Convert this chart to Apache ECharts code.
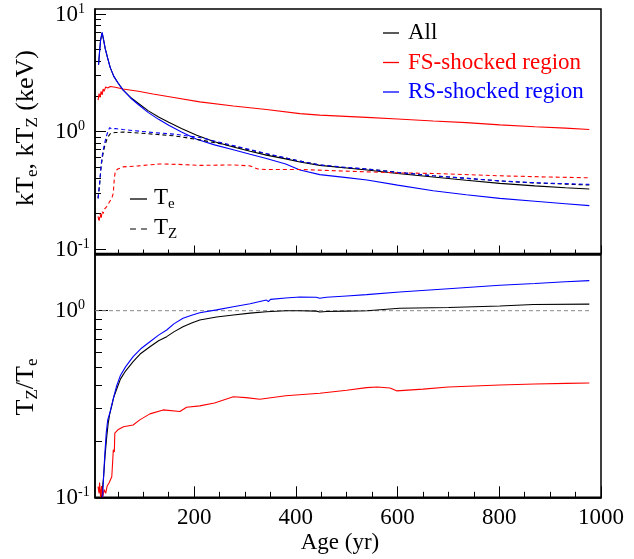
<!DOCTYPE html>
<html>
<head>
<meta charset="utf-8">
<script src="https://cdn.jsdelivr.net/npm/echarts@6/dist/echarts.min.js"></script>
<style>html,body{margin:0;padding:0;background:#fff;}#c{width:634px;height:559px;}</style>
</head>
<body>
<div id="c"></div>
<script>
// ---------- data (age in yr, temperatures in keV, ratios dimensionless) ----------
const allTeAge = [12,14,16,19,22,25,30,35,42,50,60,75,90,110,130,150,175,205,240,277,310,342,380,408,447,500,540,600,670,735,801,870,930,977];
const allTe    = [3.7,4.8,6.0,6.9,6.0,5.1,4.2,3.5,2.95,2.6,2.26,1.95,1.74,1.5,1.33,1.2,1.06,0.93,0.82,0.74,0.68,0.63,0.585,0.55,0.515,0.49,0.47,0.44,0.41,0.385,0.362,0.345,0.332,0.324];
const rsTeAge  = [12,14,16,19,22,25,30,35,42,50,60,75,90,110,130,150,175,205,240,277,310,342,380,408,447,500,540,600,670,735,801,870,930,977];
const rsTe     = [3.7,4.8,6.0,7.0,6.0,5.1,4.2,3.5,2.95,2.6,2.26,1.93,1.7,1.45,1.27,1.13,0.99,0.86,0.77,0.70,0.64,0.59,0.53,0.47,0.43,0.405,0.387,0.35,0.313,0.29,0.27,0.255,0.243,0.234];
const fsTeAge  = [11,13,15,17,19,21,23,26,30,35,45,60,90,119,160,211,277,342,408,447,539,600,670,735,801,870,930,977];
const fsTe     = [1.85,2.1,1.95,2.2,2.05,2.3,2.2,2.4,2.35,2.42,2.38,2.3,2.2,2.09,1.95,1.79,1.65,1.54,1.42,1.38,1.32,1.28,1.23,1.19,1.14,1.1,1.07,1.04];

const allTzAge = [11,14,17,20,24,28,32,36,45,60,80,120,160,211,277,342,408,447,500,540,600,670,735,801,870,930,977];
const allTz    = [0.27,0.35,0.5,0.62,0.75,0.85,0.92,0.97,0.98,0.99,0.98,0.95,0.92,0.85,0.75,0.645,0.56,0.52,0.49,0.48,0.45,0.42,0.4,0.38,0.365,0.357,0.351];
const rsTzAge  = [11,14,17,20,24,28,31,34,38,45,60,80,120,160,211,277,342,408,447,500,540,600,670,735,801,870,930,977];
const rsTz     = [0.27,0.36,0.52,0.66,0.8,0.93,1.02,1.08,1.05,1.06,1.04,1.02,0.98,0.95,0.89,0.76,0.65,0.56,0.52,0.495,0.48,0.45,0.42,0.4,0.38,0.367,0.36,0.355];
const fsTzAge  = [11,13,15,17,19,21,24,28,33,38,41,43,45,50,60,90,133,170,211,277,310,325,342,408,500,600,670,801,900,977];
const fsTz     = [0.19,0.17,0.2,0.18,0.21,0.2,0.22,0.23,0.25,0.27,0.3,0.4,0.46,0.48,0.5,0.51,0.53,0.525,0.515,0.52,0.51,0.48,0.475,0.475,0.46,0.445,0.44,0.42,0.41,0.404];

const allRatioAge = [18,22,25,28,31,34,38,42,47,55,65,80,95,113,130,146,160,178,195,211,244,277,310,342,380,408,440,447,460,500,540,604,700,801,867,977];
const allRatio    = [0.1,0.13,0.17,0.21,0.25,0.28,0.31,0.345,0.376,0.43,0.475,0.533,0.59,0.641,0.69,0.726,0.77,0.821,0.86,0.892,0.925,0.948,0.97,0.988,1.0,1.0,0.995,0.985,0.99,0.995,1.0,1.03,1.04,1.06,1.08,1.085];
const rsRatioAge  = [20,22,24,27,30,34,40,47,55,65,80,95,113,130,146,160,178,195,211,244,277,310,342,346,350,380,408,440,447,460,500,539,604,700,801,870,930,977];
const rsRatio     = [0.1,0.13,0.165,0.22,0.26,0.282,0.33,0.391,0.45,0.5,0.567,0.625,0.682,0.74,0.788,0.85,0.91,0.945,0.976,1.01,1.05,1.09,1.14,1.12,1.15,1.17,1.185,1.18,1.165,1.18,1.2,1.22,1.26,1.31,1.37,1.4,1.43,1.45];
const fsRatioAge  = [11,13,14,16,18,20,23,26,29,33,38,40,41,43,44,50,61,80,93,113,139,172,185,211,240,277,302,329,380,447,500,539,560,585,598,650,700,801,870,932,977];
const fsRatio     = [0.114,0.105,0.12,0.1,0.115,0.1,0.11,0.105,0.115,0.12,0.129,0.16,0.18,0.175,0.221,0.23,0.239,0.244,0.26,0.28,0.294,0.288,0.304,0.309,0.32,0.346,0.342,0.335,0.35,0.361,0.375,0.387,0.39,0.385,0.372,0.38,0.39,0.4,0.405,0.408,0.41];

const unityAge = [5, 977];
const unity    = [1, 1];

// ---------- tick labels / positions ----------
const ageMajor = [200, 400, 600, 800, 1000];
const ageMinor = [50,100,150,250,300,350,450,500,550,650,700,750,850,900,950];
const topDecades = [-1, 0, 1];
const botDecades = [-1, 0];
const mant = [2,3,4,5,6,7,8,9];

// ---------- helpers ----------
const FONT = '"Liberation Serif","Times New Roman",serif';
const lg = v => Math.log10(v);
const pts = (a, v) => a.map((x, i) => [x, lg(v[i])]);
function minorsIn(lo, hi) {
  const out = [];
  for (let e = Math.floor(lo) - 1; e <= Math.ceil(hi); e++) {
    mant.forEach(m => { const l = e + lg(m); if (l > lo && l < hi) out.push(l); });
  }
  return out;
}
const TOP_MIN = -1.038, TOP_MAX = 1.043;
const BOT_MIN = -1.0, BOT_MAX = 0.2985;

const expRich = {
  b: { fontFamily: FONT, fontSize: 23, color: '#000', verticalAlign: 'bottom', lineHeight: 24 },
  s: { fontFamily: FONT, fontSize: 14, color: '#000', verticalAlign: 'top', lineHeight: 14 }
};
const expFmt = v => '{b|10}{s|' + Math.round(v) + '}';

function majorY(grid, min, max, decs, tickLen) {
  return {
    gridIndex: grid, type: 'value', position: 'left', min: min, max: max,
    axisLine: { show: true, onZero: false, lineStyle: { color: '#000', width: 1.5 } },
    axisTick: { show: true, inside: true, length: tickLen, customValues: decs, lineStyle: { color: '#000', width: 1 } },
    axisLabel: { show: true, customValues: decs, formatter: expFmt, align: 'left', margin: 40, rich: expRich, showMinLabel: true, showMaxLabel: true },
    splitLine: { show: false }
  };
}
function minorY(grid, min, max, tickLen) {
  return {
    gridIndex: grid, type: 'value', position: 'left', min: min, max: max,
    axisLine: { show: false, onZero: false },
    axisTick: { show: true, inside: true, length: tickLen, customValues: minorsIn(min, max), lineStyle: { color: '#000', width: 1 } },
    axisLabel: { show: false }, splitLine: { show: false }
  };
}
function xAx(grid, vals, tickLen, labels) {
  return {
    gridIndex: grid, type: 'value', position: 'bottom', min: 5, max: 1000,
    axisLine: { show: true, onZero: false, lineStyle: { color: '#000', width: 1.5 } },
    axisTick: { show: true, inside: true, length: tickLen, customValues: vals, lineStyle: { color: '#000', width: 1 } },
    axisLabel: labels ? { show: true, customValues: vals, margin: 9, formatter: v => String(v), fontFamily: FONT, fontSize: 23, color: '#000', showMaxLabel: true, showMinLabel: true } : { show: false },
    splitLine: { show: false }
  };
}
function line(name, xi, yi, data, color, dashed, width) {
  return {
    name: name, type: 'line', xAxisIndex: xi, yAxisIndex: yi, data: data,
    symbol: 'none', showSymbol: false, animation: false, silent: true,
    lineStyle: { color: color, width: width || 1.1, type: dashed ? [4, 3] : 'solid' },
    itemStyle: { color: color }
  };
}
const SOLID_ICON = 'rect';
const DASH_ICON = 'path://M0,0h6v1h-6z M11,0h6v1h-6z';

const option = {
  backgroundColor: '#fff',
  animation: false,
  grid: [
    { left: 95, top: 9, width: 506, height: 244.5, show: true, borderColor: '#000', borderWidth: 1.5, backgroundColor: 'transparent' },
    { left: 95, top: 255, width: 506, height: 242.3, show: true, borderColor: '#000', borderWidth: 1.5, backgroundColor: 'transparent' }
  ],
  xAxis: [
    xAx(0, ageMajor, 8, false),
    xAx(0, ageMinor, 4, false),
    xAx(1, ageMajor, 11, true),
    xAx(1, ageMinor, 5.5, false)
  ],
  yAxis: [
    majorY(0, TOP_MIN, TOP_MAX, topDecades, 11),
    minorY(0, TOP_MIN, TOP_MAX, 6),
    majorY(1, BOT_MIN, BOT_MAX, botDecades, 13),
    minorY(1, BOT_MIN, BOT_MAX, 7)
  ],
  legend: [
    {
      orient: 'vertical', left: 383, top: 20, padding: 0, itemWidth: 16, itemHeight: 1.3, itemGap: 3.5,
      selectedMode: false, itemStyle: { borderWidth: 0 },
      textStyle: { fontFamily: FONT, fontSize: 23, lineHeight: 26, padding: [0, 0, 0, 4] },
      data: [
        { name: 'All', icon: SOLID_ICON, textStyle: { color: '#000' } },
        { name: 'FS-shocked region', icon: SOLID_ICON, textStyle: { color: '#ff0000' } },
        { name: 'RS-shocked region', icon: SOLID_ICON, textStyle: { color: '#0000ff' } }
      ]
    },
    {
      orient: 'vertical', left: 130, top: 186, padding: 0, itemWidth: 17, itemHeight: 1.3, itemGap: 4,
      selectedMode: false, itemStyle: { borderWidth: 0 },
      formatter: n => n === 'Te' ? '{t|T}{e|e}' : '{t|T}{e|Z}',
      textStyle: {
        padding: [0, 0, 0, 2], lineHeight: 26,
        rich: {
          t: { fontFamily: FONT, fontSize: 23, color: '#000', verticalAlign: 'top', lineHeight: 26 },
          e: { fontFamily: FONT, fontSize: 15, color: '#000', verticalAlign: 'bottom', lineHeight: 18 }
        }
      },
      data: [{ name: 'Te', icon: SOLID_ICON }, { name: 'Tz', icon: DASH_ICON }]
    }
  ],
  graphic: [
    { type: 'text', x: 340, y: 543, silent: true,
      style: { text: 'Age (yr)', font: '23px ' + FONT, fill: '#000', align: 'center', verticalAlign: 'middle' } },
    { type: 'text', x: 27, y: 128, rotation: Math.PI / 2, silent: true,
      style: { text: '{a|kT}{b|e}{a|, kT}{b|Z}{a| (keV)}', align: 'center', verticalAlign: 'middle',
        rich: { a: { fontFamily: FONT, fontSize: 26, fill: '#000', verticalAlign: 'top', lineHeight: 28 },
                b: { fontFamily: FONT, fontSize: 17, fill: '#000', verticalAlign: 'bottom', lineHeight: 20 } } } },
    { type: 'text', x: 27, y: 387, rotation: Math.PI / 2, silent: true,
      style: { text: '{a|T}{b|Z}{a|/T}{b|e}', align: 'center', verticalAlign: 'middle',
        rich: { a: { fontFamily: FONT, fontSize: 26, fill: '#000', verticalAlign: 'top', lineHeight: 28 },
                b: { fontFamily: FONT, fontSize: 17, fill: '#000', verticalAlign: 'bottom', lineHeight: 20 } } } }
  ],
  series: [
    line('All', 0, 0, pts(allTeAge, allTe), '#000000', false),
    line('FS-shocked region', 0, 0, pts(fsTeAge, fsTe), '#ff0000', false),
    line('RS-shocked region', 0, 0, pts(rsTeAge, rsTe), '#0000ff', false),
    line('All', 0, 0, pts(allTzAge, allTz), '#000000', true),
    line('FS-shocked region', 0, 0, pts(fsTzAge, fsTz), '#ff0000', true),
    line('RS-shocked region', 0, 0, pts(rsTzAge, rsTz), '#0000ff', true),
    line('Te', 0, 0, [], '#000000', false),
    line('Tz', 0, 0, [], '#000000', true),
    line('unity', 2, 2, pts(unityAge, unity), '#888888', true, 1),
    line('All', 2, 2, pts(allRatioAge, allRatio), '#000000', false),
    line('FS-shocked region', 2, 2, pts(fsRatioAge, fsRatio), '#ff0000', false),
    line('RS-shocked region', 2, 2, pts(rsRatioAge, rsRatio), '#0000ff', false)
  ]
};
const chart = echarts.init(document.getElementById('c'), null, { renderer: 'canvas' });
chart.setOption(option);
</script>
</body>
</html>
